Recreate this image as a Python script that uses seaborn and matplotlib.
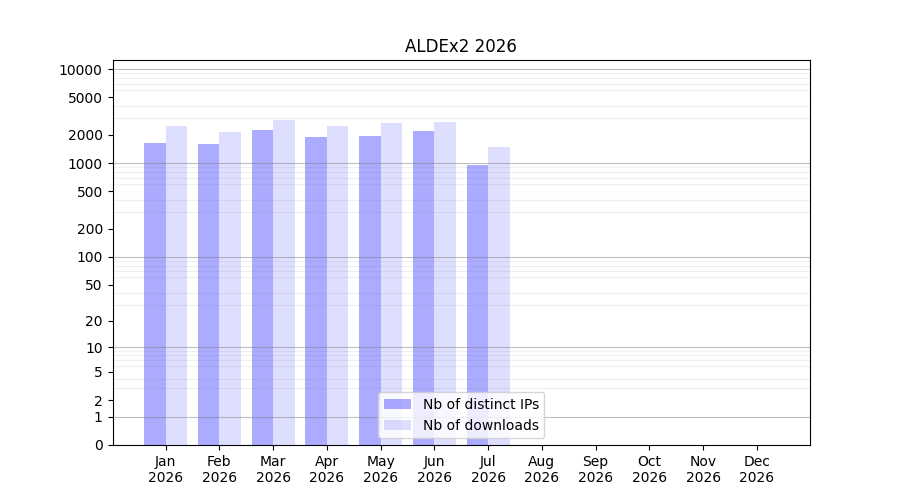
import numpy as np
import pandas as pd
import matplotlib
matplotlib.use('Agg')
import matplotlib.pyplot as plt
import seaborn as sns
from matplotlib.ticker import FixedLocator

# valores
meses = ['Jan', 'Feb', 'Mar', 'Apr', 'May', 'Jun', 'Jul', 'Aug', 'Sep', 'Oct', 'Nov', 'Dec']
ano = '2026'
ips = [1640, 1600, 2260, 1900, 1950, 2200, 960, 0, 0, 0, 0, 0]
downloads = [2490, 2150, 2880, 2490, 2680, 2750, 1490, 0, 0, 0, 0, 0]
ticks_y = [0, 1, 2, 5, 10, 20, 50, 100, 200, 500, 1000, 2000, 5000, 10000]

df = pd.DataFrame({
    'mes': meses * 2,
    'valor': ips + downloads,
    'serie': ['Nb of distinct IPs'] * len(meses) + ['Nb of downloads'] * len(meses),
})

fig, ax = plt.subplots(figsize=(9, 5), dpi=100)
sns.barplot(data=df, x='mes', y='valor', hue='serie', order=meses,
            palette={'Nb of distinct IPs': 'blue', 'Nb of downloads': 'blue'},
            saturation=1, errorbar=None, ax=ax, legend=False)

for cont, a in zip(ax.containers, [0.33, 0.13]):
    for p in cont:
        p.set_alpha(a)
        p.set_edgecolor('none')

ax.set_yscale('function', functions=(lambda v: np.log10(np.maximum(v, 0) + 1),
                                     lambda v: 10 ** v - 1))
ax.set_ylim(0, 12500)
ax.set_xlim(-0.99, 11.99)

ax.yaxis.set_major_locator(FixedLocator(ticks_y))
ax.set_yticklabels([str(t) for t in ticks_y])
menores = [m * 10 ** d for d in range(4) for m in range(1, 10)]
ax.yaxis.set_minor_locator(FixedLocator(menores))
ax.yaxis.set_minor_formatter(plt.NullFormatter())
ax.tick_params(axis='y', which='minor', length=0)
ax.grid(which='minor', axis='y', color='gray', alpha=0.12)
for d in [1, 10, 100, 1000, 10000]:
    ax.axhline(d, color='gray', alpha=0.5, linewidth=0.8, zorder=1.5)

ax.set_xticks(range(len(meses)))
ax.set_xticklabels([f'{m}\n{ano}' for m in meses])
ax.set_xlabel('')
ax.set_ylabel('')
ax.set_title('ALDEx2 2026')
ax.legend(handles=ax.containers, labels=['Nb of distinct IPs', 'Nb of downloads'],
          loc='lower center')

plt.savefig('out.png')
